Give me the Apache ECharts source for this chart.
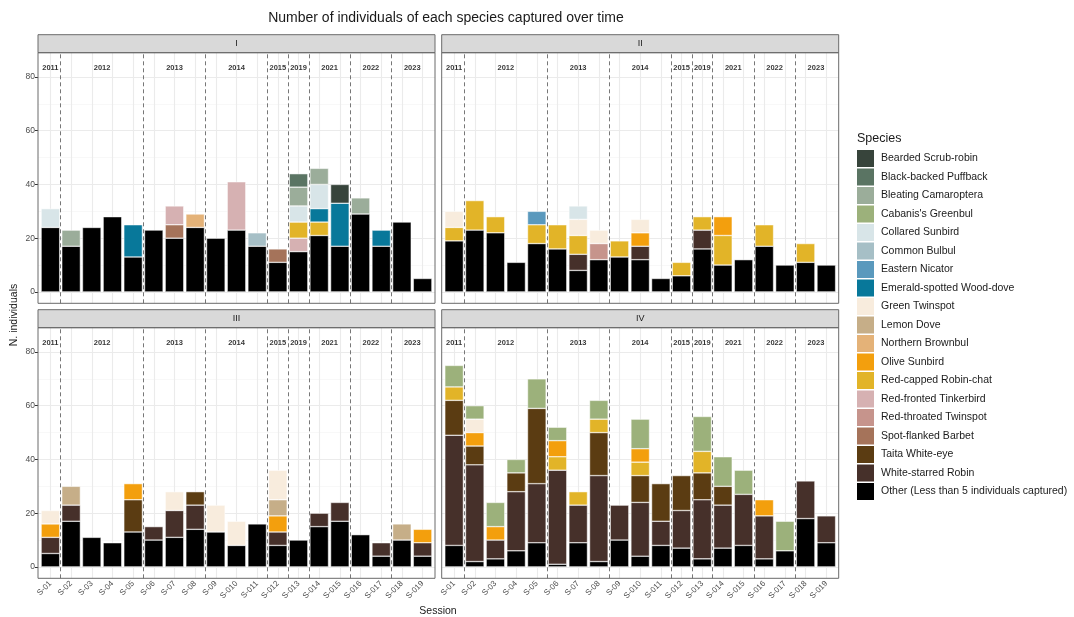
<!DOCTYPE html>
<html><head><meta charset="utf-8">
<script src="https://cdn.jsdelivr.net/npm/echarts@6/dist/echarts.min.js"></script>
<style>html,body{margin:0;padding:0;background:#fff}#c{width:1074px;height:617px}</style>
</head><body><div id="c"></div>
<script>
// ---------- categories / labels ----------
const sessions = ['S-01','S-02','S-03','S-04','S-05','S-06','S-07','S-08','S-09','S-010','S-011','S-012','S-013','S-014','S-015','S-016','S-017','S-018','S-019'];
const years = ['2011','2012','2013','2014','2015','2019','2021','2022','2023'];
const yearFirst = [1,2,6,9,12,13,14,16,18];
const yearLast  = [1,5,8,11,12,13,15,17,19];
const panels = ['I','II','III','IV'];
const yTicks = [0,20,40,60,80];
const species = ['Bearded Scrub-robin','Black-backed Puffback','Bleating Camaroptera',"Cabanis's Greenbul",'Collared Sunbird','Common Bulbul','Eastern Nicator','Emerald-spotted Wood-dove','Green Twinspot','Lemon Dove','Northern Brownbul','Olive Sunbird','Red-capped Robin-chat','Red-fronted Tinkerbird','Red-throated Twinspot','Spot-flanked Barbet','Taita White-eye','White-starred Robin','Other (Less than 5 individuals captured)'];
const speciesColors = ['#37443b','#5a7463','#9bad9a','#9cb17b','#d8e5e8','#a6bfc6','#5a99bd','#08789a','#f8ecdd','#c6ae88','#e4b278','#f39f0d','#e2b428','#d6b1b2','#c6948c','#a5735a','#5b3c12','#46302a','#000000'];

// ---------- Panel I ----------
const I_other        = [24,17,24,28,13,23,20,24,20,23,17,11,15,21,17,29,17,26,5];
const I_collared     = [7,0,0,0,0,0,0,0,0,0,0,0,6,9,0,0,0,0,0];
const I_bleating     = [0,6,0,0,0,0,0,0,0,0,0,0,7,6,0,6,0,0,0];
const I_emerald      = [0,0,0,0,12,0,0,0,0,0,0,0,0,5,16,0,6,0,0];
const I_spotFlanked  = [0,0,0,0,0,0,5,0,0,0,0,5,0,0,0,0,0,0,0];
const I_redFronted   = [0,0,0,0,0,0,7,0,0,18,0,0,5,0,0,0,0,0,0];
const I_northernBrownbul = [0,0,0,0,0,0,0,5,0,0,0,0,0,0,0,0,0,0,0];
const I_commonBulbul = [0,0,0,0,0,0,0,0,0,0,5,0,0,0,0,0,0,0,0];
const I_redCapped    = [0,0,0,0,0,0,0,0,0,0,0,0,6,5,0,0,0,0,0];
const I_blackBacked  = [0,0,0,0,0,0,0,0,0,0,0,0,5,0,0,0,0,0,0];
const I_bearded      = [0,0,0,0,0,0,0,0,0,0,0,0,0,0,7,0,0,0,0];

// ---------- Panel II ----------
const II_other       = [19,23,22,11,18,16,8,12,13,12,5,6,16,10,12,17,10,11,10];
const II_redCapped   = [5,11,6,0,7,9,7,0,6,0,0,5,5,11,0,8,0,7,0];
const II_greenTwinspot = [6,0,0,0,0,0,6,5,0,5,0,0,0,0,0,0,0,0,0];
const II_easternNicator = [0,0,0,0,5,0,0,0,0,0,0,0,0,0,0,0,0,0,0];
const II_whiteStarred = [0,0,0,0,0,0,6,0,0,5,0,0,7,0,0,0,0,0,0];
const II_collared    = [0,0,0,0,0,0,5,0,0,0,0,0,0,0,0,0,0,0,0];
const II_redThroated = [0,0,0,0,0,0,0,6,0,0,0,0,0,0,0,0,0,0,0];
const II_olive       = [0,0,0,0,0,0,0,0,0,5,0,0,0,7,0,0,0,0,0];

// ---------- Panel III ----------
const III_other      = [5,17,11,9,13,10,11,14,13,8,16,8,10,15,17,12,4,10,4];
const III_whiteStarred = [6,6,0,0,0,5,10,9,0,0,0,5,0,5,7,0,5,0,5];
const III_olive      = [5,0,0,0,6,0,0,0,0,0,0,6,0,0,0,0,0,0,5];
const III_greenTwinspot = [5,0,0,0,0,0,7,0,10,9,0,11,0,0,0,0,0,0,0];
const III_lemonDove  = [0,7,0,0,0,0,0,0,0,0,0,6,0,0,0,0,0,6,0];
const III_taita      = [0,0,0,0,12,0,0,5,0,0,0,0,0,0,0,0,0,0,0];

// ---------- Panel IV ----------
const IV_other       = [8,2,3,6,9,1,9,2,10,4,8,7,3,7,8,3,6,18,9];
const IV_whiteStarred = [41,36,7,22,22,35,14,32,13,20,9,14,22,16,19,16,0,14,10];
const IV_taita       = [13,7,0,7,28,0,0,16,0,10,14,13,10,7,0,0,0,0,0];
const IV_redCapped   = [5,0,0,0,0,5,5,5,0,5,0,0,8,0,0,0,0,0,0];
const IV_olive       = [0,5,5,0,0,6,0,0,0,5,0,0,0,0,0,6,0,0,0];
const IV_greenTwinspot = [0,5,0,0,0,0,0,0,0,0,0,0,0,0,0,0,0,0,0];
const IV_cabanis     = [8,5,9,5,11,5,0,7,0,11,0,0,13,11,9,0,11,0,0];

const panelTables = [
  {'Other (Less than 5 individuals captured)':I_other,'Collared Sunbird':I_collared,'Bleating Camaroptera':I_bleating,'Emerald-spotted Wood-dove':I_emerald,'Spot-flanked Barbet':I_spotFlanked,'Red-fronted Tinkerbird':I_redFronted,'Northern Brownbul':I_northernBrownbul,'Common Bulbul':I_commonBulbul,'Red-capped Robin-chat':I_redCapped,'Black-backed Puffback':I_blackBacked,'Bearded Scrub-robin':I_bearded},
  {'Other (Less than 5 individuals captured)':II_other,'Red-capped Robin-chat':II_redCapped,'Green Twinspot':II_greenTwinspot,'Eastern Nicator':II_easternNicator,'White-starred Robin':II_whiteStarred,'Collared Sunbird':II_collared,'Red-throated Twinspot':II_redThroated,'Olive Sunbird':II_olive},
  {'Other (Less than 5 individuals captured)':III_other,'White-starred Robin':III_whiteStarred,'Olive Sunbird':III_olive,'Green Twinspot':III_greenTwinspot,'Lemon Dove':III_lemonDove,'Taita White-eye':III_taita},
  {'Other (Less than 5 individuals captured)':IV_other,'White-starred Robin':IV_whiteStarred,'Taita White-eye':IV_taita,'Red-capped Robin-chat':IV_redCapped,'Olive Sunbird':IV_olive,'Green Twinspot':IV_greenTwinspot,"Cabanis's Greenbul":IV_cabanis}
];

// ---------- layout ----------
const FONT = "'Liberation Sans', Arial, sans-serif";
const PX = [38, 441.7], PY = [52.7, 327.7], PW = 397, PH = 250.6, SH = 18;
const Y_MIN = -4.24, Y_MAX = 89.04, X_MIN = 0.4, X_MAX = 19.6;
const band = PW / (X_MAX - X_MIN);
const sessionPos = sessions.map((s, i) => i + 1);

const grids = [], xAxes = [], yAxes = [], series = [], graphics = [];

panels.forEach((p, k) => {
  const col = k % 2, row = Math.floor(k / 2);
  // grid A (index 2k): full panel, value axes for guides and labels
  grids.push({left: PX[col], top: PY[row], width: PW, height: PH, show: false});
  xAxes.push({type: 'value', gridIndex: 2 * k, min: X_MIN, max: X_MAX,
    axisLine: {show: false}, splitLine: {show: false},
    axisTick: {show: row === 1, customValues: sessionPos, length: 3, lineStyle: {color: '#333', width: 1}},
    axisLabel: {show: row === 1, customValues: sessionPos, formatter: v => sessions[Math.round(v) - 1],
      rotate: 45, fontSize: 8, color: '#4d4d4d', margin: 4, fontFamily: FONT}});
  yAxes.push({type: 'value', gridIndex: 2 * k, min: Y_MIN, max: Y_MAX,
    axisLine: {show: false}, splitLine: {show: false},
    axisTick: {show: col === 0, customValues: yTicks, length: 3, lineStyle: {color: '#333', width: 1}},
    axisLabel: {show: col === 0, customValues: yTicks, fontSize: 8.5, color: '#4d4d4d', margin: 3, fontFamily: FONT}});
  // grid B (index 2k+1): category axis for bars, same scale as grid A
  grids.push({left: PX[col] + (1 - X_MIN - 0.5) * band, top: PY[row], width: sessions.length * band, height: PH, show: false});
  xAxes.push({type: 'category', gridIndex: 2 * k + 1, data: sessions, boundaryGap: true, show: false});
  yAxes.push({type: 'value', gridIndex: 2 * k + 1, min: Y_MIN, max: Y_MAX, show: false, splitLine: {show: false}});

  // grid lines + year separators
  const ml = [];
  [10,30,50,70].forEach(v => ml.push({yAxis: v, lineStyle: {color: '#f3f3f3', width: 0.6, type: 'solid'}}));
  yTicks.forEach(v => ml.push({yAxis: v, lineStyle: {color: '#ebebeb', width: 1.1, type: 'solid'}}));
  sessionPos.forEach(v => ml.push({xAxis: v, lineStyle: {color: '#ebebeb', width: 1.1, type: 'solid'}}));
  yearLast.slice(0, -1).forEach(v => ml.push({xAxis: v + 0.5, lineStyle: {color: '#777', width: 1, type: [4, 3]}}));
  series.push({type: 'line', xAxisIndex: 2 * k, yAxisIndex: 2 * k, data: [], silent: true, z: 1,
    markLine: {silent: true, symbol: ['none', 'none'], label: {show: false}, animation: false, z: 1, data: ml}});

  // stacked bars: bottom first
  const tbl = panelTables[k];
  for (let s = species.length - 1; s >= 0; s--) {
    const arr = tbl[species[s]] || sessions.map(() => 0);
    series.push({type: 'bar', name: species[s], xAxisIndex: 2 * k + 1, yAxisIndex: 2 * k + 1, stack: 'p' + k,
      barWidth: '90%', z: 3,
      itemStyle: {color: speciesColors[s], borderColor: '#ffffff', borderWidth: 0.5},
      data: arr.map(v => (v > 0 ? v : '-'))});
  }

  // year labels
  series.push({type: 'scatter', xAxisIndex: 2 * k, yAxisIndex: 2 * k, symbolSize: 0, silent: true, z: 5,
    label: {show: true, position: 'inside', formatter: '{b}', fontSize: 7.5, fontWeight: 'bold', color: '#000', fontFamily: FONT},
    data: years.map((y, i) => ({name: y, value: [(yearFirst[i] + yearLast[i]) / 2, 83.5]}))});

  // strip + border
  graphics.push({type: 'rect', shape: {x: PX[col], y: PY[row] - SH, width: PW, height: SH},
    style: {fill: '#d9d9d9', stroke: '#6a6a6a', lineWidth: 1}, z: 10});
  graphics.push({type: 'text', x: PX[col] + PW / 2, y: PY[row] - SH / 2,
    style: {text: p, fontSize: 9, fill: '#1a1a1a', align: 'center', verticalAlign: 'middle', fontFamily: FONT}, z: 11});
  graphics.push({type: 'rect', shape: {x: PX[col], y: PY[row], width: PW, height: PH},
    style: {fill: null, stroke: '#6a6a6a', lineWidth: 1}, z: 100});
});

graphics.push({type: 'text', x: 446, y: 18,
  style: {text: 'Number of individuals of each species captured over time', fontSize: 14, fill: '#1a1a1a', align: 'center', verticalAlign: 'middle', fontFamily: FONT}});
graphics.push({type: 'text', x: 14, y: 315, rotation: Math.PI / 2,
  style: {text: 'N. individuals', fontSize: 10.5, fill: '#1a1a1a', align: 'center', verticalAlign: 'middle', fontFamily: FONT}});
graphics.push({type: 'text', x: 438, y: 611,
  style: {text: 'Session', fontSize: 10.5, fill: '#1a1a1a', align: 'center', verticalAlign: 'middle', fontFamily: FONT}});
graphics.push({type: 'text', x: 857, y: 139,
  style: {text: 'Species', fontSize: 12.5, fill: '#1a1a1a', align: 'left', verticalAlign: 'middle', fontFamily: FONT}});

const chart = echarts.init(document.getElementById('c'), null, {renderer: 'canvas', width: 1074, height: 617});
chart.setOption({
  animation: false,
  backgroundColor: '#ffffff',
  grid: grids, xAxis: xAxes, yAxis: yAxes, series: series,
  legend: {data: species, orient: 'vertical', left: 857, top: 150, padding: 0, itemWidth: 17, itemHeight: 17, itemGap: 1.5,
    icon: 'rect', selectedMode: false, itemStyle: {borderWidth: 0},
    textStyle: {fontSize: 10.5, color: '#1a1a1a', fontFamily: FONT, padding: [0, 0, 0, 2]}},
  graphic: graphics
});
</script></body></html>
